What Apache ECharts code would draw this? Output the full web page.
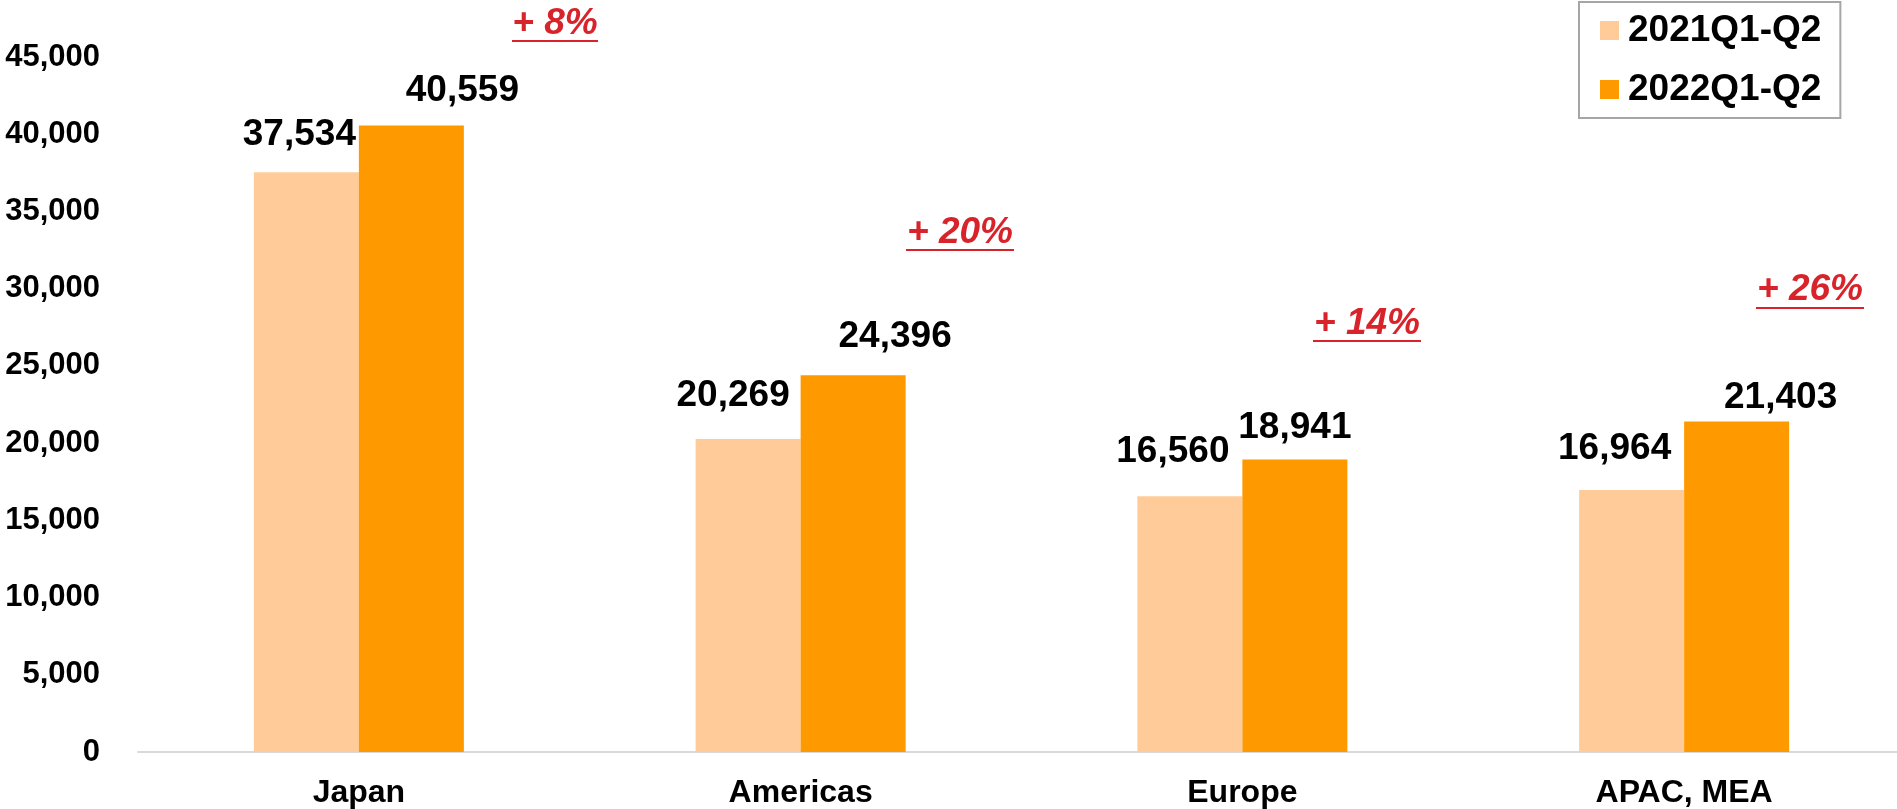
<!DOCTYPE html>
<html>
<head>
<meta charset="utf-8">
<script src="https://cdn.jsdelivr.net/npm/echarts@6/dist/echarts.min.js"></script>
<style>
html,body{margin:0;padding:0;background:#fff;overflow:hidden;width:1897px;height:809px;}
#chart{width:1920px;height:809px;}
</style>
</head>
<body>
<div id="chart"></div>
<script>
const categories = ['Japan', 'Americas', 'Europe', 'APAC, MEA'];
const seriesNames = ['2021Q1-Q2', '2022Q1-Q2'];
const values2021 = [37534, 20269, 16560, 16964];
const values2022 = [40559, 24396, 18941, 21403];
const growthLabels = ['+ 8%', '+ 20%', '+ 14%', '+ 26%'];
const yTicks = [0, 5000, 10000, 15000, 20000, 25000, 30000, 35000, 40000, 45000];

// layout only: value-label offsets (px) per category, as placed in the original
const labelOffsets2021 = [[-7, -14], [-15, -20], [-17, -21], [-17, -18]];
const labelOffsets2022 = [[51, -11], [42, -15], [0, -8], [44, 0]];

// layout of the growth annotations (pixel centre, cap-centre y, underline y, half width)
const annotationLayout = [
  {x: 555, y: 24, uy: 41, hw: 43},
  {x: 960, y: 233, uy: 250, hw: 54},
  {x: 1367, y: 324, uy: 341, hw: 54},
  {x: 1810, y: 290, uy: 308, hw: 54}
];

const FONT = '"Liberation Sans", Arial, sans-serif';
const fmt = v => v.toLocaleString('en-US');

const graphics = [];
growthLabels.forEach((t, i) => {
  const a = annotationLayout[i];
  graphics.push({
    type: 'text', x: a.x, y: a.y,
    style: {text: t, fill: '#d9232b', font: 'italic bold 37px ' + FONT, textAlign: 'center', textVerticalAlign: 'middle'}
  });
  graphics.push({
    type: 'line', shape: {x1: a.x - a.hw, y1: a.uy, x2: a.x + a.hw, y2: a.uy},
    style: {stroke: '#d9232b', lineWidth: 2}
  });
});

const labelStyle = {show: true, position: 'top', fontSize: 37, fontWeight: 'bold', color: '#000', fontFamily: FONT, formatter: p => fmt(p.value)};
const buildData = (vals, offs) => vals.map((v, i) => ({value: v, label: {offset: offs[i]}}));

const chart = echarts.init(document.getElementById('chart'));
chart.setOption({
  animation: false,
  backgroundColor: '#ffffff',
  grid: {left: 138, width: 1767, top: 57, bottom: 55, containLabel: false},
  legend: {
    orient: 'vertical', left: 1579, top: 2,
    borderColor: '#a6a6a6', borderWidth: 2,
    padding: [10, 19, 10, 21],
    itemWidth: 19, itemHeight: 19, itemGap: 22,
    icon: 'rect',
    textStyle: {fontSize: 37, fontWeight: 'bold', color: '#000', fontFamily: FONT, padding: [0, 0, 0, 4]},
    data: seriesNames
  },
  xAxis: {
    type: 'category', data: categories,
    axisLine: {lineStyle: {color: '#d9d9d9', width: 2}},
    axisTick: {show: false},
    axisLabel: {fontSize: 32, fontWeight: 'bold', color: '#000', fontFamily: FONT, margin: 25}
  },
  yAxis: {
    type: 'value', min: yTicks[0], max: yTicks[yTicks.length - 1], interval: yTicks[1] - yTicks[0],
    splitLine: {show: false}, axisLine: {show: false}, axisTick: {show: false},
    axisLabel: {fontSize: 31, fontWeight: 'bold', color: '#000', fontFamily: FONT, margin: 38, formatter: v => fmt(v)}
  },
  series: [
    {
      name: seriesNames[0], type: 'bar', data: buildData(values2021, labelOffsets2021), barWidth: 105, barGap: '0%',
      itemStyle: {color: '#ffcc99'},
      label: labelStyle
    },
    {
      name: seriesNames[1], type: 'bar', data: buildData(values2022, labelOffsets2022), barWidth: 105, barGap: '0%',
      itemStyle: {color: '#ff9900'},
      label: labelStyle
    }
  ],
  graphic: graphics
});
</script>
</body>
</html>
